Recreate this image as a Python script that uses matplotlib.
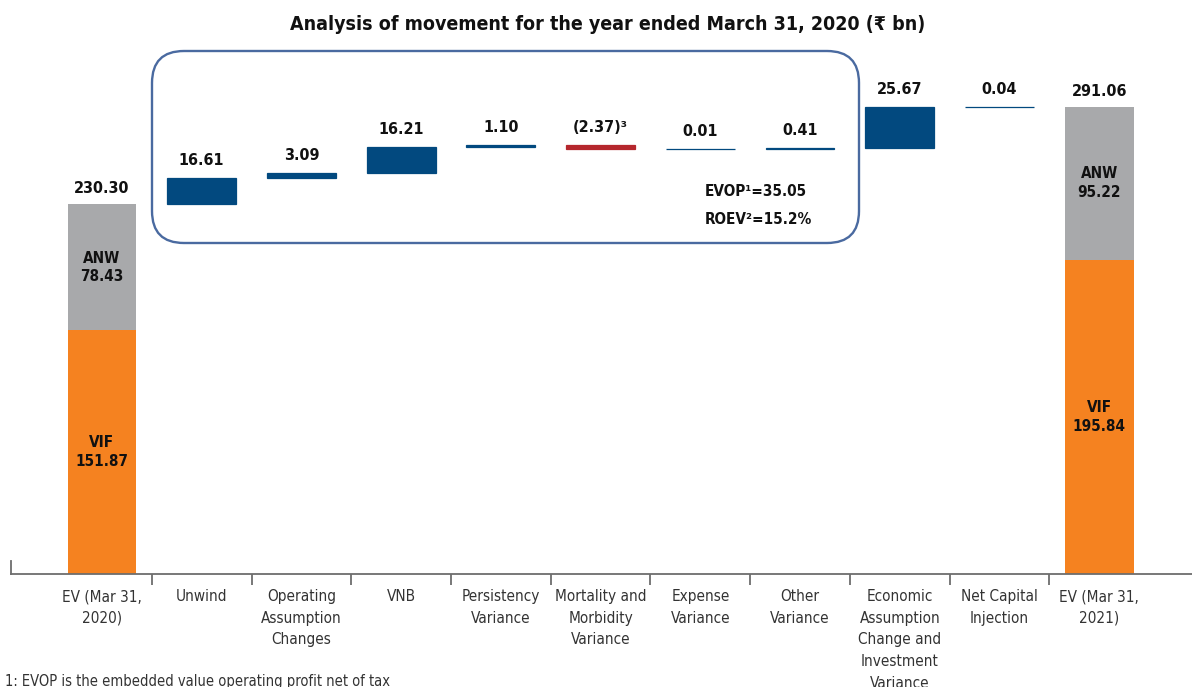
import matplotlib
matplotlib.use("Agg")
import matplotlib.pyplot as plt
import numpy as np
from matplotlib.patches import FancyBboxPatch

plt.rcParams["font.family"] = ["DejaVu Sans"]
plt.rcParams["font.stretch"] = "condensed"

# EV walk, ₹ bn
categories = [
    "EV (Mar 31,\n2020)", "Unwind", "Operating\nAssumption\nChanges", "VNB",
    "Persistency\nVariance", "Mortality and\nMorbidity\nVariance", "Expense\nVariance",
    "Other\nVariance", "Economic\nAssumption\nChange and\nInvestment\nVariance",
    "Net Capital\nInjection", "EV (Mar 31,\n2021)",
]
open_vif, open_anw = 151.87, 78.43
close_vif, close_anw = 195.84, 95.22
open_total, close_total = 230.30, 291.06
movements = [16.61, 3.09, 16.21, 1.10, -2.37, 0.01, 0.41, 25.67, 0.04]
movement_labels = ["16.61", "3.09", "16.21", "1.10", "(2.37)³", "0.01", "0.41", "25.67", "0.04"]
evop_text = ["EVOP¹=35.05", "ROEV²=15.2%"]

BLUE = "#02497f"
RED = "#b5272d"
GREY = "#a8a9ab"
ORANGE = "#f58220"
BOX = "#4a6aa0"
W = 0.69

fig = plt.figure(figsize=(11.92, 6.87), dpi=100)
ax = fig.add_axes([11 / 1192, 113 / 687, 1181 / 1192, 544 / 687])
ax.set_xlim(-0.912, 10.93)
ax.set_ylim(0, 544 / 1.605)

lbl = dict(ha="center", va="bottom", fontsize=11.5, fontweight="bold", color="#111111")
inner = dict(ha="center", va="center", fontsize=11, fontweight="bold", color="#111111",
             linespacing=1.3)

# opening and closing EV, stacked VIF + ANW
for x, vif, anw, tot in [(0, open_vif, open_anw, open_total),
                         (10, close_vif, close_anw, close_total)]:
    ax.bar(x, vif, W, color=ORANGE, linewidth=0)
    ax.bar(x, anw, W, bottom=vif, color=GREY, linewidth=0)
    ax.text(x, vif / 2, f"VIF\n{vif:.2f}", **inner)
    ax.text(x, vif + anw / 2, f"ANW\n{anw:.2f}", **inner)
    ax.annotate(f"{tot:.2f}", (x, vif + anw), xytext=(0, 6),
                textcoords="offset points", **lbl)

# floating movement bars
level = open_total
for i, (m, txt) in enumerate(zip(movements, movement_labels), start=1):
    col = BLUE if m >= 0 else RED
    bottom = level if m >= 0 else level + m
    ax.bar(i, abs(m), W, bottom=bottom, color=col, edgecolor=col, linewidth=0.9)
    ax.annotate(txt, (i, bottom + abs(m)), xytext=(0, 7),
                textcoords="offset points", **lbl)
    level += m

# axis styling: bare baseline with separators between categories
for s in ["top", "right"]:
    ax.spines[s].set_visible(False)
ax.spines["left"].set_bounds(0, 8)
ax.spines["left"].set_color("#6d6d6d")
ax.spines["bottom"].set_color("#6d6d6d")
ax.spines["bottom"].set_linewidth(1.3)
ax.spines["left"].set_linewidth(1.3)
ax.set_yticks([])
ax.set_xticks(range(len(categories)))
ax.set_xticklabels(categories, fontsize=11, color="#333333", linespacing=1.55)
ax.tick_params(axis="x", which="major", length=0, pad=11)
ax.set_xticks(np.arange(0.5, 10), minor=True)
ax.tick_params(axis="x", which="minor", length=8, width=1.3, color="#6d6d6d")

# operating profit box
box = FancyBboxPatch((1.52, 4.44), 7.07, 1.92, boxstyle="round,pad=0,rounding_size=0.32",
                     transform=fig.dpi_scale_trans, fill=False, edgecolor=BOX, linewidth=1.7)
fig.add_artist(box)
fig.text(705 / 1192, 1 - 192 / 687, evop_text[0], ha="left", va="center",
         fontsize=11, fontweight="bold", color="#111111")
fig.text(705 / 1192, 1 - 219 / 687, evop_text[1], ha="left", va="center",
         fontsize=11, fontweight="bold", color="#111111")

fig.text(608 / 1192, 1 - 25 / 687,
         "Analysis of movement for the year ended March 31, 2020 (₹ bn)",
         ha="center", va="center", fontsize=14, fontweight="bold", color="#111111")
fig.text(5 / 1192, 1 - 674 / 687, "1: EVOP is the embedded value operating profit net of tax",
         ha="left", va="top", fontsize=10.5, color="#333333")

fig.savefig("out.png", dpi=100)
